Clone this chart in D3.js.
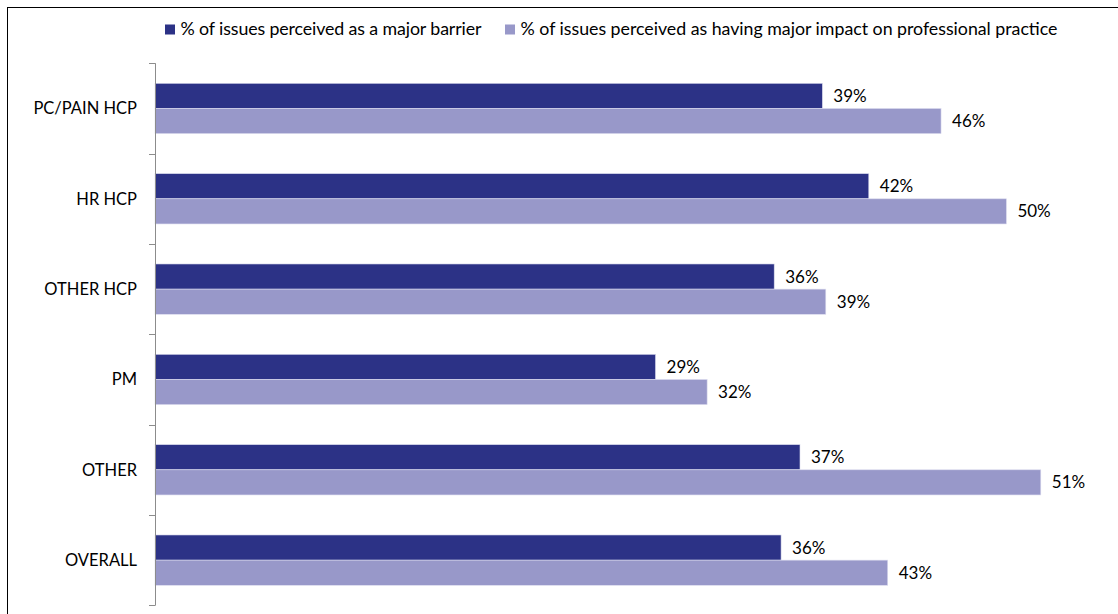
<!DOCTYPE html>
<html><head><meta charset="utf-8">
<script src="https://cdn.jsdelivr.net/npm/d3@7"></script>
<style>
html,body{margin:0;padding:0;background:#fff;overflow:hidden;}
svg{display:block;}
text{font-family:Lato, "Open Sans", sans-serif;fill:#000;}
</style></head>
<body><svg id="c" width="1118" height="614"></svg>
<script>
const categories = ["PC/PAIN HCP","HR HCP","OTHER HCP","PM","OTHER","OVERALL"];
const seriesNames = ["% of issues perceived as a major barrier","% of issues perceived as having major impact on professional practice"];
const majorBarrier = [38.8, 41.5, 36.0, 29.1, 37.5, 36.4];
const majorImpact = [45.7, 49.5, 39.0, 32.1, 51.5, 42.6];
const barrierLabels = ["39%","42%","36%","29%","37%","36%"];
const impactLabels = ["46%","50%","39%","32%","51%","43%"];
const colors = ["#2C3286","#9898C9"];

const svg = d3.select("#c");
// outer frame
svg.append("rect").attr("x",7.5).attr("y",7.5).attr("width",1300).attr("height",800)
  .attr("fill","none").attr("stroke","#000").attr("stroke-width",1);

const x = d3.scaleLinear().domain([0,55]).range([155,155+55*17.2]);
const y = d3.scaleBand().domain(categories).range([63.3,605.3]).paddingInner(0.443).paddingOuter(0.2215);
const ys = d3.scaleBand().domain([0,1]).range([0,y.bandwidth()]);

const data = categories.map((c,i)=>({c, v:[majorBarrier[i],majorImpact[i]], l:[barrierLabels[i],impactLabels[i]]}));

const g = svg.append("g");
data.forEach(d=>{
  [0,1].forEach(s=>{
    g.append("rect")
      .attr("x",x(0)).attr("y",y(d.c)+ys(s))
      .attr("width",x(d.v[s])-x(0)).attr("height",ys.bandwidth())
      .attr("fill",colors[s]).attr("stroke","#dcdcee").attr("stroke-width",0.6);
    g.append("text")
      .attr("x",x(d.v[s])+11).attr("y",y(d.c)+ys(s)+ys.bandwidth()/2)
      .attr("dy","0.35em").attr("font-size",17).text(d.l[s]);
  });
});

// axis line and ticks at category boundaries
const step = y.step();
const y0 = 63.3;
svg.append("line").attr("x1",155.5).attr("x2",155.5).attr("y1",y0).attr("y2",y0+step*6)
  .attr("stroke","#8c8c8c").attr("stroke-width",1);
d3.range(7).forEach(i=>{
  const yy = Math.round(y0+i*step)+0.5;
  svg.append("line").attr("x1",149).attr("x2",155.5).attr("y1",yy).attr("y2",yy)
    .attr("stroke","#8c8c8c").attr("stroke-width",1);
});
categories.forEach(c=>{
  svg.append("text").attr("x",137).attr("y",y(c)+y.bandwidth()/2).attr("dy","0.35em")
    .attr("text-anchor","end").attr("font-size",16.5).text(c);
});

// legend
const legX = [165, 505];
const legW = [301, 537];
const leg = svg.append("g");
seriesNames.forEach((n,i)=>{
  leg.append("rect").attr("x",legX[i]).attr("y",24.5).attr("width",10).attr("height",10).attr("fill",colors[i]);
  leg.append("text").attr("x",legX[i]+15.5).attr("y",34.5).attr("font-size",17.8)
    .attr("textLength",legW[i]).attr("lengthAdjust","spacing").text(n);
});
</script></body></html>
